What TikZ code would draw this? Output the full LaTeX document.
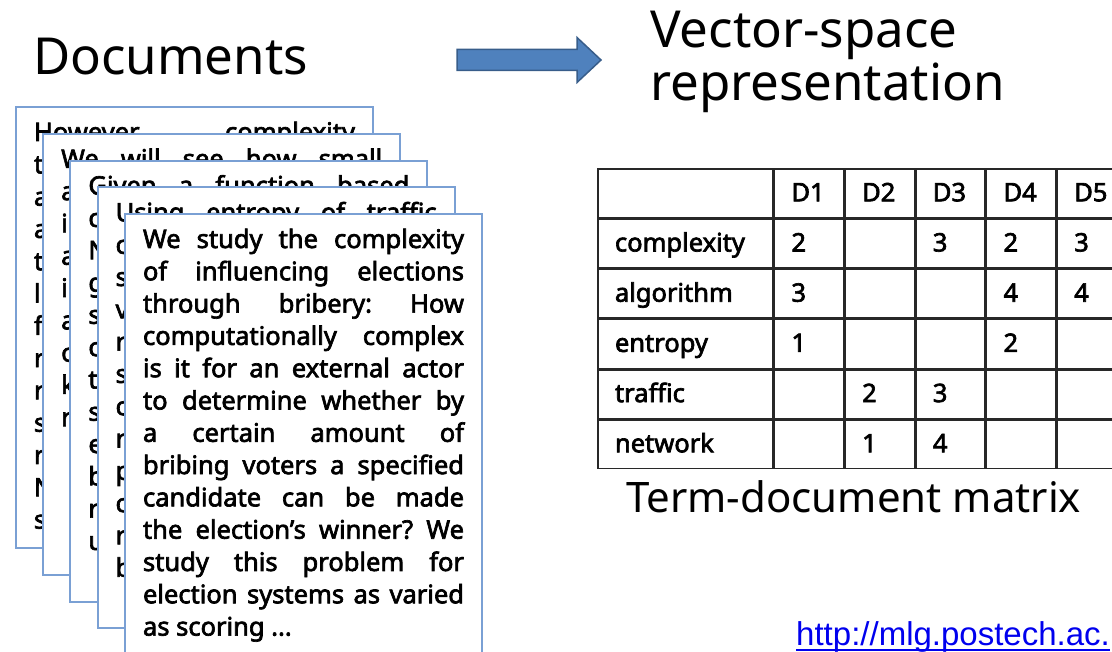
\documentclass[tikz,border=0pt]{standalone}
\usepackage{fontspec}
\setmainfont{Noto Sans}
\newfontfamily\bodyfont{Noto Sans}[FakeBold=2.6]
\newfontfamily\urlfont{Liberation Sans}
\usetikzlibrary{matrix}
\definecolor{pageblue}{RGB}{122,160,212}
\definecolor{arrowfill}{RGB}{79,129,189}
\definecolor{arrowline}{RGB}{56,93,138}
\definecolor{gridline}{RGB}{40,40,40}
\definecolor{linkblue}{RGB}{0,0,238}
\frenchspacing

\begin{document}
\begin{tikzpicture}[
        x=1pt, y=-1pt,
        docpage/.style={draw=pageblue, line width=2pt, fill=white, anchor=north west,
                inner xsep=18pt, inner ysep=0pt, text width=321pt, align=justify,
                text height=34pt, text depth=407pt,
                font=\bodyfont\fontsize{25.5pt}{32.3pt}\selectfont},
        cell/.style={draw=gridline, line width=1.5pt, outer sep=0pt, anchor=center,
                minimum height=48.7pt, inner xsep=17pt, inner ysep=0pt, text width=35.2pt,
                align=left, text height=20pt, text depth=4pt,
                font=\bodyfont\fontsize{25.5pt}{30pt}\selectfont},
        heading/.style={anchor=base west, inner sep=0pt, font=\fontsize{51pt}{55pt}\selectfont}
    ]
    \useasboundingbox (0,0) rectangle (1112,652);

    \node[heading] (docs) at (33,75) {Documents};
    \node[heading] (vsp1) at (650,48) {Vector-space};
    \node[heading] (vsp2) at (650,101) {representation};

    \draw[arrowline, fill=arrowfill, line width=1.5pt]
        (457,49.5) -- (577,49.5) -- (577,37.5) -- (601,60) -- (577,82.5) -- (577,70.5) -- (457,70.5) -- cycle;

    % stack of documents, back to front
    \node[docpage] (doc1) at (15,106) {However\hfill complexity\\ t\\ a\\ a\\ t\\ l\\ f\\ r\\ r\\ s\\ r\\ N\\ s};
    \node[docpage] (doc2) at (42.2,132.8) {We will see how small\linebreak a\\ i\\ a\\ i\\ a\\ c\\ k\\ r};
    \node[docpage] (doc3) at (69.4,159.6) {Given a function based\linebreak c\\ N\\ g\\ s\\ c\\ t\\ s\\ e\\ b\\ r\\ u};
    \node[docpage] (doc4) at (96.6,186.4) {Using entropy of traffic\linebreak c\\ s\\ v\\ r\\ s\\ c\\ r\\ p\\ c\\ r\\ b};
    \node[docpage] (doc5) at (124,213) {We study the complexity\linebreak
        of influencing elections\linebreak
        through bribery: How\linebreak
        computationally complex\linebreak
        is it for an external actor\linebreak
        to determine whether by\linebreak
        a certain amount of\linebreak
        bribing voters a specified\linebreak
        candidate can be made\linebreak
        the election’s winner? We\linebreak
        study this problem for\linebreak
        election systems as varied\linebreak
        as scoring ...};

    \matrix (tdm) [matrix of nodes, nodes in empty cells, nodes={cell},
        column sep=0pt, row sep=0pt, inner sep=0pt, anchor=north west,
        column 1/.style={nodes={text width=141pt}}] at (597,168) {
                   & D1 & D2 & D3 & D4 & D5 \\
        complexity & 2  &    & 3  & 2  & 3  \\
        algorithm  & 3  &    &    & 4  & 4  \\
        entropy    & 1  &    &    & 2  &    \\
        traffic    &    & 2  & 3  &    &    \\
        network    &    & 1  & 4  &    &    \\
    };
    \node[anchor=base west, inner sep=0pt, font=\fontsize{42pt}{46pt}\selectfont] (tdmcap) at (626,512) {Term-document matrix};

    \node[anchor=base west, inner sep=0pt, text=linkblue, font=\urlfont\fontsize{33pt}{36pt}\selectfont] (url) at (796,645) {http://mlg.postech.ac.};
    \draw[linkblue, line width=1.6pt] ([yshift=-5pt]url.base west) -- ([yshift=-5pt]url.base east);
\end{tikzpicture}
\end{document}
